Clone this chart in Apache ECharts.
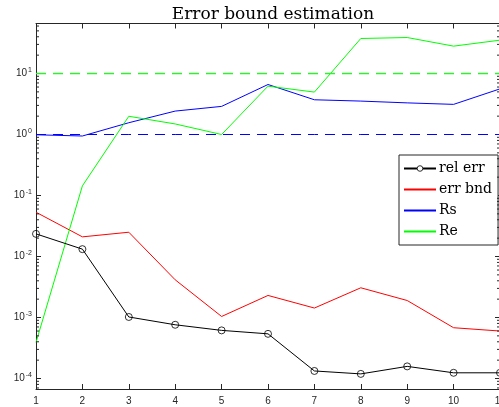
<!DOCTYPE html>
<html lang="en">
<head>
	<meta charset="UTF-8">
	<title>Error bound estimation</title>
	<script src="https://cdn.jsdelivr.net/npm/echarts@6/dist/echarts.min.js"></script>
	<style>
		html, body { margin: 0; padding: 0; background: #fff; }
	</style>
</head>
<body>
	<div id="main" style="width: 499px;height:407px;"></div>
	<script type="text/javascript">

		// x positions (iteration)
		var iters = [1, 2, 3, 4, 5, 6, 7, 8, 9, 10, 11];
		// series values
		var relErr = [0.0235, 0.0132, 1.02e-3, 7.6e-4, 6.15e-4, 5.4e-4, 1.33e-4, 1.19e-4, 1.58e-4, 1.24e-4, 1.24e-4];
		var errBnd = [0.0532, 0.021, 0.025, 4.15e-3, 1.04e-3, 2.3e-3, 1.43e-3, 3.07e-3, 1.9e-3, 6.8e-4, 6.0e-4];
		var Rs = [0.99, 0.945, 1.56, 2.42, 2.89, 6.6, 3.71, 3.53, 3.3, 3.12, 5.6];
		var Re = [3.9e-4, 0.144, 1.99, 1.49, 1.0, 6.2, 4.96, 37.5, 38.9, 28.1, 35.2];
		// reference levels (dashed)
		var ReLevel = [10, 10, 10, 10, 10, 10, 10, 10, 10, 10, 10];
		var RsLevel = [1, 1, 1, 1, 1, 1, 1, 1, 1, 1, 1];
		// y range
		var yMin = 6.73e-5;
		var yMax = 66.03;
		// minor tick values of the log axis
		var minorMult = [2, 3, 4, 5, 6, 7, 8, 9];
		var decades = [-5, -4, -3, -2, -1, 0, 1];

		var axisCol = '#262626';
		var serif = 'DejaVu Serif';
		var sans = 'Liberation Sans';

		function pairs(ys) {
			return iters.map(function (x, i) { return [x, ys[i]]; });
		}

		var minorTicks = [];
		decades.forEach(function (d) {
			minorMult.forEach(function (m) {
				var v = m * Math.pow(10, d);
				if (v > yMin && v < yMax) minorTicks.push([1, v]);
			});
		});

		var myChart = echarts.init(document.getElementById('main'));

		function yLabel(v) {
			var e = Math.log10(v);
			if (Math.abs(e - Math.round(e)) > 1e-6) return '';
			return '{b|10}{s|' + Math.round(e) + '}';
		}

		var noSym = { opacity: 0 };

		var option = {
			backgroundColor: '#fff',
			animation: false,
			title: {
				text: 'Error bound estimation',
				left: 268,
				textAlign: 'center',
				top: 1,
				textStyle: { fontFamily: serif, fontSize: 17, fontWeight: 'normal', color: '#000' }
			},
			legend: {
				orient: 'vertical',
				left: 399,
				top: 155,
				padding: [5, 6, 5, 4],
				itemWidth: 32,
				itemHeight: 7,
				itemGap: 4,
				borderColor: axisCol,
				borderWidth: 1,
				backgroundColor: '#fff',
				data: [
					{ name: 'rel err', itemStyle: { color: '#fff', borderColor: '#000', borderWidth: 0.8 } },
					{ name: 'err bnd', itemStyle: noSym },
					{ name: 'Rs', itemStyle: noSym },
					{ name: 'Re', itemStyle: noSym }
				],
				textStyle: { fontFamily: serif, fontSize: 14, color: '#000', padding: [0, 0, 0, -2], lineHeight: 17 }
			},
			grid: { left: 36, top: 23.5, width: 464, height: 365.5, outerBoundsMode: 'none', containLabel: false },
			xAxis: [{
				type: 'value',
				min: 1,
				max: 11,
				interval: 1,
				position: 'bottom',
				axisLine: { lineStyle: { color: axisCol, width: 1 } },
				axisTick: { inside: true, length: 5, lineStyle: { color: axisCol } },
				axisLabel: { color: axisCol, fontFamily: sans, fontSize: 10, margin: 7 },
				splitLine: { show: false }
			}, {
				type: 'value',
				min: 1,
				max: 11,
				interval: 1,
				position: 'top',
				axisLine: { lineStyle: { color: axisCol, width: 1 } },
				axisTick: { inside: true, length: 5, lineStyle: { color: axisCol } },
				axisLabel: { show: false },
				splitLine: { show: false }
			}],
			yAxis: [{
				type: 'log',
				logBase: 10,
				min: yMin,
				max: yMax,
				position: 'left',
				axisLine: { show: true, lineStyle: { color: axisCol, width: 1 } },
				axisTick: { inside: true, length: 5, lineStyle: { color: axisCol } },
				axisLabel: {
					formatter: yLabel,
					showMinLabel: false,
					showMaxLabel: false,
					margin: 4,
					rich: {
						b: { fontFamily: sans, fontSize: 10, color: axisCol },
						s: { fontFamily: sans, fontSize: 7, color: axisCol, verticalAlign: 'bottom', padding: [0, 0, 7, 1] }
					}
				},
				splitLine: { show: false }
			}, {
				type: 'log',
				logBase: 10,
				min: yMin,
				max: yMax,
				position: 'right',
				axisLine: { show: true, lineStyle: { color: axisCol, width: 1 } },
				axisTick: { inside: true, length: 5, lineStyle: { color: axisCol } },
				axisLabel: { show: false },
				splitLine: { show: false }
			}],
			series: [{
				name: 'rel err',
				type: 'line',
				data: pairs(relErr),
				symbol: 'circle',
				symbolSize: 7,
				showAllSymbol: true,
				lineStyle: { color: '#000', width: 1 },
				itemStyle: { color: 'rgba(0,0,0,0)', borderColor: '#000', borderWidth: 0.8 },
				z: 5
			}, {
				name: 'err bnd',
				type: 'line',
				data: pairs(errBnd),
				symbol: 'none',
				lineStyle: { color: '#ff0000', width: 1 },
				itemStyle: { color: '#ff0000' }
			}, {
				name: 'Rs',
				type: 'line',
				data: pairs(Rs),
				symbol: 'none',
				lineStyle: { color: '#0000ff', width: 1 },
				itemStyle: { color: '#0000ff' }
			}, {
				name: 'Re',
				type: 'line',
				data: pairs(Re),
				symbol: 'none',
				lineStyle: { color: '#00ff00', width: 1 },
				itemStyle: { color: '#00ff00' }
			}, {
				name: 'Rs level',
				type: 'line',
				data: pairs(RsLevel),
				symbol: 'none',
				silent: true,
				lineStyle: { color: '#0000ff', type: [10, 7], width: 1 },
				itemStyle: { color: '#0000ff' }
			}, {
				name: 'Re level',
				type: 'line',
				data: pairs(ReLevel),
				symbol: 'none',
				silent: true,
				lineStyle: { color: '#33ee33', type: [10, 7], width: 1.3 },
				itemStyle: { color: '#33ee33' },
				z: 3
			}, {
				// minor ticks on left and right borders
				type: 'custom',
				silent: true,
				data: minorTicks,
				renderItem: function (params, api) {
					var y = api.coord([1, api.value(1)])[1];
					var cs = params.coordSys;
					return {
						type: 'group',
						children: [{
							type: 'line',
							shape: { x1: cs.x, y1: y, x2: cs.x + 3, y2: y },
							style: { stroke: axisCol, lineWidth: 1 }
						}, {
							type: 'line',
							shape: { x1: cs.x + cs.width - 3, y1: y, x2: cs.x + cs.width, y2: y },
							style: { stroke: axisCol, lineWidth: 1 }
						}]
					};
				},
				z: 10
			}]
		};
		myChart.setOption(option);
	</script>
</body>
</html>
